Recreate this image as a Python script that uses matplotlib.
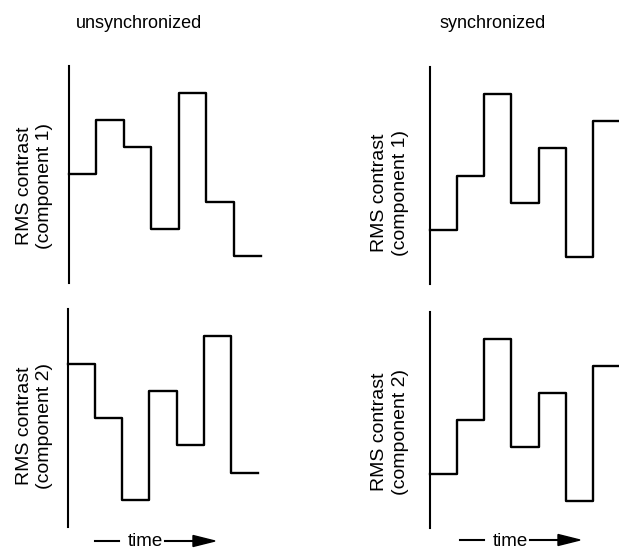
import matplotlib
matplotlib.use("Agg")
import matplotlib.pyplot as plt
import numpy as np
from matplotlib.lines import Line2D
from matplotlib.patches import Polygon

plt.rcParams['font.family'] = ['Liberation Sans', 'DejaVu Sans']

# data: contrast levels (arbitrary units) for 7 successive time intervals
time_steps = [0, 1, 2, 3, 4, 5, 6, 7]
unsync_comp1 = [3, 5, 4, 1, 6, 2, 0]
unsync_comp2 = [5, 3, 0, 4, 2, 6, 1]
sync_comp1 = [1, 3, 6, 2, 4, 0, 5]
sync_comp2 = [1, 3, 6, 2, 4, 0, 5]
column_titles = ["unsynchronized", "synchronized"]
ylabels = ["RMS contrast\n(component 1)", "RMS contrast\n(component 2)"]
time_label = "time"

W, H = 619, 552
fig = plt.figure(figsize=(W / 100, H / 100), dpi=100)


def fx(px):
    return px / W


def fy(py):
    return 1 - py / H


def add_panel(left, right, top, bottom):
    return fig.add_axes([fx(left), fy(bottom), (right - left) / W, (bottom - top) / H])


panels = [
    (add_panel(69, 261, 66, 283), unsync_comp1),
    (add_panel(430, 620, 67, 284), sync_comp1),
    (add_panel(68, 258, 309, 527), unsync_comp2),
    (add_panel(430, 620, 312, 528), sync_comp2),
]

for ax, vals in panels:
    yv = list(vals) + [vals[-1]]
    ax.step(time_steps, yv, where='post', color='black', lw=1.7, clip_on=False)
    ax.set_xlim(0, 7)
    ax.set_ylim(-1, 7)
    for s in ['top', 'right', 'bottom']:
        ax.spines[s].set_visible(False)
    ax.spines['left'].set_linewidth(1.5)
    ax.set_xticks([])
    ax.set_yticks([])
    ax.patch.set_alpha(0)

# column titles
fig.text(fx(139), fy(23), column_titles[0], ha='center', va='center', fontsize=13)
fig.text(fx(493), fy(23), column_titles[1], ha='center', va='center', fontsize=13)

# y labels
label_pos = [(34.5, 186, ylabels[0]), (390, 193, ylabels[0]),
             (34.5, 426, ylabels[1]), (390, 432, ylabels[1])]
for x, y, t in label_pos:
    fig.text(fx(x), fy(y), t, rotation=90, ha='center', va='center',
             fontsize=14, multialignment='center', linespacing=1.3)

# time arrows
def time_arrow(x0, y0, dx_text):
    fig.add_artist(Line2D([fx(x0), fx(x0 + 24)], [fy(y0), fy(y0)], color='black', lw=1.5))
    fig.text(fx(x0 + dx_text), fy(y0 + 1), time_label, ha='center', va='center', fontsize=13.5)
    fig.add_artist(Line2D([fx(x0 + 70), fx(x0 + 100)], [fy(y0), fy(y0)], color='black', lw=1.5))
    tri = Polygon([[fx(x0 + 98), fy(y0 - 5.5)], [fx(x0 + 120), fy(y0)], [fx(x0 + 98), fy(y0 + 5.5)]],
                  closed=True, color='black', transform=fig.transFigure)
    fig.add_artist(tri)

time_arrow(95, 541, 50)
time_arrow(460, 540, 50)

fig.savefig("out.png", dpi=100)
